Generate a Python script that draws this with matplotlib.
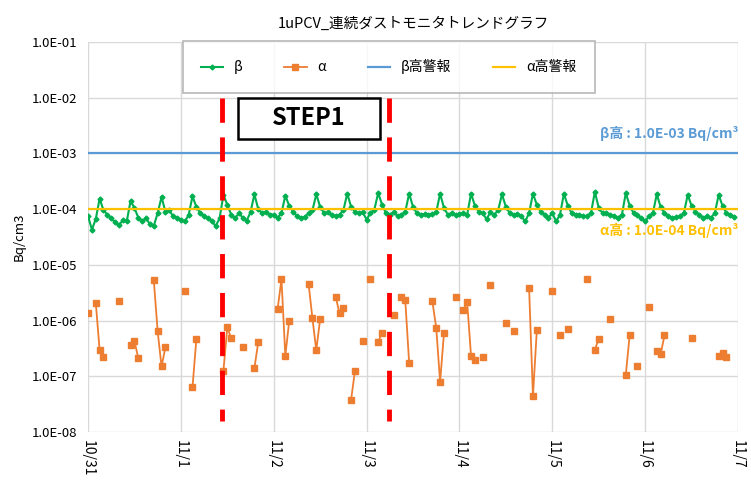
import numpy as np
import matplotlib.pyplot as plt
from matplotlib.patches import Rectangle

plt.rcParams['font.family'] = ['Noto Sans CJK JP', 'DejaVu Sans']

# hourly beta readings from 10/31 00:00 (Bq/cm3)
beta = [
    # 10/31
    7.5e-5, 4.3e-5, 6.6e-5, 1.55e-4, 9.5e-5, 8.0e-5, 6.8e-5, 5.8e-5,
    5.2e-5, 6.3e-5, 6.0e-5, 1.4e-4, 1.05e-4, 7.0e-5, 6.2e-5, 6.8e-5,
    5.4e-5, 5.0e-5, 8.5e-5, 1.65e-4, 9.0e-5, 9.5e-5, 7.5e-5, 7.0e-5,
    # 11/1
    6.5e-5, 6.0e-5, 7.8e-5, 1.7e-4, 1.1e-4, 8.5e-5, 7.5e-5, 6.8e-5,
    6.0e-5, 5.0e-5, 6.8e-5, 1.8e-4, 1.2e-4, 8.0e-5, 6.8e-5, 8.5e-5,
    7.0e-5, 6.2e-5, 8.8e-5, 1.85e-4, 1.0e-4, 8.5e-5, 9.0e-5, 8.0e-5,
    # 11/2
    8.0e-5, 7.0e-5, 8.5e-5, 1.75e-4, 1.15e-4, 9.0e-5, 7.5e-5, 7.0e-5,
    7.2e-5, 8.5e-5, 9.5e-5, 1.85e-4, 1.1e-4, 8.5e-5, 8.8e-5, 7.8e-5,
    7.5e-5, 8.0e-5, 9.5e-5, 1.9e-4, 1.1e-4, 9.0e-5, 8.5e-5, 8.8e-5,
    # 11/3
    6.5e-5, 8.5e-5, 9.8e-5, 1.95e-4, 1.2e-4, 8.5e-5, 8.0e-5, 8.8e-5,
    7.5e-5, 8.0e-5, 9.0e-5, 1.9e-4, 1.1e-4, 8.5e-5, 8.0e-5, 8.2e-5,
    8.0e-5, 8.3e-5, 8.8e-5, 1.9e-4, 1.05e-4, 8.0e-5, 8.5e-5, 7.8e-5,
    # 11/4
    8.2e-5, 8.6e-5, 8.0e-5, 1.9e-4, 1.15e-4, 9.0e-5, 8.5e-5, 6.6e-5,
    8.8e-5, 8.0e-5, 9.5e-5, 1.85e-4, 1.1e-4, 8.5e-5, 8.0e-5, 8.2e-5,
    7.5e-5, 6.0e-5, 8.5e-5, 1.9e-4, 1.2e-4, 9.0e-5, 8.0e-5, 7.0e-5,
    # 11/5
    8.5e-5, 6.0e-5, 8.0e-5, 1.9e-4, 1.15e-4, 8.5e-5, 8.0e-5, 8.0e-5,
    7.5e-5, 7.5e-5, 8.5e-5, 2.05e-4, 1.05e-4, 8.5e-5, 8.5e-5, 8.0e-5,
    7.5e-5, 7.0e-5, 8.0e-5, 1.95e-4, 1.15e-4, 8.5e-5, 8.0e-5, 6.8e-5,
    # 11/6
    6.0e-5, 7.5e-5, 8.5e-5, 1.85e-4, 1.1e-4, 8.5e-5, 7.5e-5, 7.0e-5,
    7.2e-5, 7.5e-5, 8.5e-5, 1.8e-4, 1.15e-4, 9.0e-5, 8.0e-5, 7.0e-5,
    7.5e-5, 7.0e-5, 8.5e-5, 1.8e-4, 1.15e-4, 8.5e-5, 8.0e-5, 7.2e-5,
]

# alpha readings: hour index and value (missing hours are gaps)
alpha_hour = [0, 2, 3, 4, 8, 11, 12, 13, 17, 18, 19, 20, 25, 27, 28,
              35, 36, 37, 40, 43, 44, 49, 50, 51, 52, 57, 58, 59, 60,
              64, 65, 66, 68, 69, 71, 73, 75, 76, 79, 81, 82, 83,
              89, 90, 91, 92, 95, 97, 98, 99, 100, 102, 104, 108, 110,
              114, 115, 116, 120, 122, 124, 129, 131, 132, 135, 139, 140,
              142, 145, 147, 148, 149, 156, 163, 164, 165]
alpha_val = [1.34e-6, 2.1e-6, 2.95e-7, 2.2e-7, 2.2e-6, 3.7e-7, 4.3e-7, 2.1e-7,
             5.3e-6, 6.4e-7, 1.5e-7, 3.3e-7, 3.4e-6, 6.3e-8, 4.6e-7,
             1.26e-7, 7.6e-7, 4.8e-7, 3.4e-7, 1.4e-7, 4.1e-7,
             1.6e-6, 5.5e-6, 2.35e-7, 9.8e-7, 4.6e-6, 1.1e-6, 2.95e-7, 1.07e-6,
             2.7e-6, 1.35e-6, 1.7e-6, 3.8e-8, 1.26e-7, 4.3e-7, 5.5e-6,
             4.2e-7, 6.0e-7, 1.25e-6, 2.7e-6, 2.3e-6, 1.74e-7,
             2.2e-6, 7.5e-7, 7.9e-8, 5.9e-7, 2.7e-6, 1.56e-6, 2.14e-6, 2.3e-7,
             1.96e-7, 2.2e-7, 4.3e-6, 8.9e-7, 6.6e-7,
             3.9e-6, 4.4e-8, 6.7e-7, 3.4e-6, 5.5e-7, 7.1e-7, 5.5e-6,
             3.0e-7, 4.7e-7, 1.07e-6, 1.07e-7, 5.5e-7,
             1.55e-7, 1.75e-6, 2.9e-7, 2.5e-7, 5.4e-7, 4.8e-7, 2.3e-7,
             2.6e-7, 2.2e-7]

beta_alarm = 1.0e-3
alpha_alarm = 1.0e-4
step1_start, step1_end = 1.44, 3.24   # days from 10/31
day_labels = ['10/31', '11/1', '11/2', '11/3', '11/4', '11/5', '11/6', '11/7']

t_beta = np.arange(len(beta)) / 24.0
alpha_full = np.full(len(beta), np.nan)
alpha_full[alpha_hour] = alpha_val
t_alpha = np.arange(len(beta)) / 24.0

fig = plt.figure(figsize=(7.51, 4.94), dpi=100)
ax = fig.add_axes([0.1172, 0.1255, 0.8655, 0.7895])

ax.plot(t_beta, beta, color='#00B050', lw=1.5, marker='D', ms=2.5, label='β', zorder=3)
ax.plot(t_alpha, alpha_full, color='#ED7D31', lw=1.3, marker='s', ms=4, label='α', zorder=3)
ax.axhline(beta_alarm, color='#5B9BD5', lw=1.6, label='β高警報', zorder=4)
ax.axhline(alpha_alarm, color='#FFC000', lw=1.6, label='α高警報', zorder=4)

for xv in (step1_start, step1_end):
    ax.plot([xv, xv], [1.0e-2, 1.6e-8], color='#FF0000', lw=3.5,
            linestyle=(0, (5, 3)), zorder=6)

ax.add_patch(Rectangle((1.61, 1.8e-3), 1.53, 1.0e-2 - 1.8e-3, facecolor='white',
                       edgecolor='black', lw=1.8, zorder=7))
ax.text(2.375, 10 ** ((-2 + np.log10(1.8e-3)) / 2), 'STEP1', fontsize=17,
        fontweight='bold', ha='center', va='center', zorder=8)

ax.text(7.0, 10 ** -2.64, 'β高 : 1.0E-03 Bq/cm³', color='#5B9BD5', fontsize=10,
        fontweight='bold', ha='right', va='center')
ax.text(7.0, 10 ** -4.39, 'α高 : 1.0E-04 Bq/cm³', color='#FFC000', fontsize=10,
        fontweight='bold', ha='right', va='center')

ax.set_yscale('log')
ax.set_ylim(1e-8, 1e-1)
ax.set_xlim(0, 7)
yt = [10.0 ** e for e in range(-8, 0)]
ax.set_yticks(yt)
ax.set_yticklabels(['1.0E-%02d' % -e for e in range(-8, 0)])
ax.minorticks_off()
ax.set_xticks(range(8))
ax.set_xticklabels(day_labels, rotation=270, fontsize=10)
ax.tick_params(axis='y', labelsize=9.5, length=0, pad=8)
ax.tick_params(axis='x', length=0, pad=6)
ax.grid(True, color='#D9D9D9', lw=1)
ax.set_axisbelow(True)
for s in ax.spines.values():
    s.set_visible(False)

ax.set_ylabel('Bq/cm3', fontsize=9.5, labelpad=4)
ax.set_title('1uPCV_連続ダストモニタトレンドグラフ', fontsize=10.5, pad=10)

leg = ax.legend(loc='center', ncol=4, mode='expand',
                bbox_to_anchor=(0.135, 0.872, 0.655, 0.128), fontsize=10,
                frameon=True, fancybox=False, handlelength=1.6, borderpad=1.3)
leg.get_frame().set_edgecolor('#A6A6A6')
leg.get_frame().set_linewidth(1.2)

plt.savefig('out.png', dpi=100)
